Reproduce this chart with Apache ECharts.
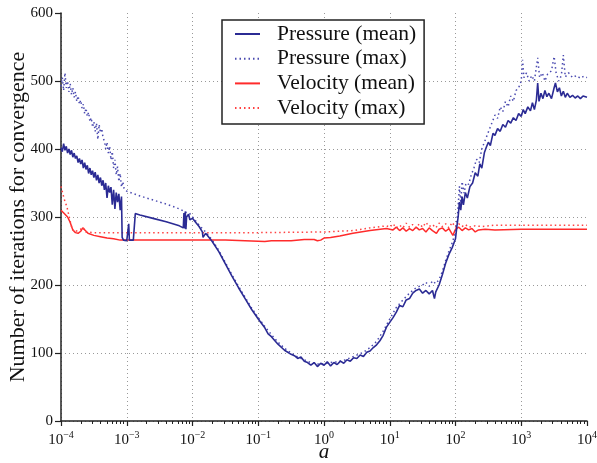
<!DOCTYPE html>
<html>
<head>
<meta charset="utf-8">
<script src="https://cdn.jsdelivr.net/npm/echarts@6/dist/echarts.min.js"></script>
<style>
  html, body { margin: 0; padding: 0; background: #fff; }
  #chart { width: 597px; height: 463px; }
</style>
</head>
<body>
<div id="chart"></div>
<script>
// x values are log10(a)
var pressureMean = [
  [-4.00, 402], [-3.98, 396], [-3.96, 408], [-3.94, 398], [-3.92, 404], [-3.90, 394],
  [-3.88, 400], [-3.86, 392], [-3.84, 398], [-3.82, 388], [-3.80, 394], [-3.78, 386],
  [-3.76, 390], [-3.74, 380], [-3.72, 386], [-3.70, 378], [-3.68, 384], [-3.66, 372],
  [-3.64, 380], [-3.62, 370], [-3.60, 376], [-3.58, 364], [-3.56, 372], [-3.54, 362],
  [-3.52, 368], [-3.50, 358], [-3.48, 366], [-3.46, 354], [-3.44, 362], [-3.42, 350],
  [-3.40, 358], [-3.38, 346], [-3.36, 354], [-3.34, 340], [-3.32, 350], [-3.30, 328],
  [-3.28, 346], [-3.26, 336], [-3.24, 344], [-3.22, 318], [-3.20, 340], [-3.18, 312],
  [-3.16, 336], [-3.14, 322], [-3.12, 334], [-3.10, 310], [-3.08, 330], [-3.07, 270],
  [-3.05, 266], [-3.00, 265], [-2.98, 266], [-2.97, 290], [-2.96, 266], [-2.90, 266],
  [-2.88, 268], [-2.87, 305], [-2.80, 303], [-2.60, 298], [-2.40, 293], [-2.20, 287],
  [-2.14, 284], [-2.13, 306], [-2.12, 283], [-2.11, 308], [-2.10, 282], [-2.09, 300],
  [-2.06, 304], [-2.04, 296], [-2.00, 298], [-1.95, 292], [-1.90, 286], [-1.85, 278],
  [-1.84, 270], [-1.80, 276], [-1.70, 264], [-1.60, 249], [-1.50, 231], [-1.40, 213],
  [-1.30, 196], [-1.20, 180], [-1.10, 164], [-1.00, 150], [-0.90, 137], [-0.85, 128],
  [-0.80, 124], [-0.70, 113], [-0.60, 104], [-0.50, 98], [-0.45, 96], [-0.40, 92],
  [-0.35, 94], [-0.30, 88], [-0.25, 86], [-0.20, 82], [-0.15, 86], [-0.10, 80],
  [-0.05, 85], [0.00, 82], [0.05, 87], [0.10, 81], [0.15, 86], [0.20, 83],
  [0.25, 88], [0.30, 85], [0.35, 90], [0.40, 88], [0.45, 93], [0.50, 92],
  [0.55, 97], [0.60, 95], [0.65, 101], [0.70, 103], [0.75, 108], [0.80, 112],
  [0.85, 118], [0.90, 126], [0.95, 138], [1.00, 145], [1.05, 152], [1.10, 160],
  [1.15, 170], [1.20, 168], [1.25, 178], [1.30, 180], [1.35, 188], [1.40, 192],
  [1.45, 194], [1.50, 188], [1.55, 192], [1.60, 187], [1.65, 192], [1.68, 180],
  [1.70, 190], [1.75, 200], [1.80, 215], [1.85, 232], [1.90, 245], [1.95, 255],
  [2.00, 268], [2.02, 285], [2.04, 300], [2.06, 322], [2.08, 310], [2.10, 330],
  [2.12, 318], [2.15, 336], [2.18, 328], [2.22, 345], [2.26, 350], [2.30, 365],
  [2.34, 360], [2.37, 378], [2.40, 372], [2.44, 395], [2.47, 403], [2.50, 410],
  [2.53, 405], [2.57, 423], [2.60, 420], [2.64, 430], [2.68, 426], [2.72, 436],
  [2.76, 432], [2.80, 442], [2.84, 438], [2.88, 446], [2.92, 442], [2.96, 452],
  [3.00, 448], [3.03, 458], [3.06, 452], [3.10, 462], [3.14, 456], [3.17, 468],
  [3.20, 458], [3.23, 472], [3.25, 497], [3.27, 470], [3.30, 482], [3.33, 474],
  [3.36, 486], [3.39, 477], [3.42, 482], [3.46, 474], [3.50, 490], [3.52, 497],
  [3.55, 484], [3.58, 490], [3.61, 478], [3.64, 485], [3.67, 476], [3.70, 482],
  [3.74, 476], [3.78, 479], [3.82, 475], [3.86, 478], [3.90, 474], [3.94, 478],
  [4.00, 476]
];

var pressureMax = [
  [-4.00, 492], [-3.98, 505], [-3.96, 486], [-3.94, 512], [-3.92, 490], [-3.90, 500],
  [-3.88, 484], [-3.86, 496], [-3.84, 480], [-3.82, 490], [-3.80, 476], [-3.78, 484],
  [-3.76, 470], [-3.74, 478], [-3.72, 466], [-3.70, 472], [-3.68, 460], [-3.66, 466],
  [-3.64, 452], [-3.62, 460], [-3.60, 448], [-3.58, 454], [-3.56, 440], [-3.54, 446],
  [-3.52, 432], [-3.50, 440], [-3.48, 426], [-3.46, 438], [-3.44, 414], [-3.42, 436],
  [-3.40, 424], [-3.38, 430], [-3.36, 416], [-3.34, 412], [-3.32, 400], [-3.30, 410],
  [-3.28, 394], [-3.26, 404], [-3.24, 384], [-3.22, 396], [-3.20, 372], [-3.18, 384],
  [-3.16, 362], [-3.14, 374], [-3.12, 352], [-3.10, 364], [-3.08, 344], [-3.06, 352],
  [-3.04, 342], [-3.00, 338], [-2.80, 331], [-2.60, 325], [-2.40, 319], [-2.20, 312],
  [-2.10, 307], [-2.05, 306], [-2.00, 300], [-1.90, 288], [-1.80, 278], [-1.70, 266],
  [-1.60, 251], [-1.50, 233], [-1.40, 215], [-1.30, 198], [-1.20, 182], [-1.10, 166],
  [-1.00, 152], [-0.90, 139], [-0.80, 127], [-0.70, 116], [-0.60, 107], [-0.50, 100],
  [-0.40, 94], [-0.30, 90], [-0.20, 86], [-0.10, 84], [0.00, 84], [0.10, 86],
  [0.20, 87], [0.30, 89], [0.40, 93], [0.50, 97], [0.60, 101], [0.70, 108],
  [0.80, 117], [0.90, 132], [1.00, 150], [1.10, 167], [1.20, 178], [1.30, 188],
  [1.40, 196], [1.50, 200], [1.55, 204], [1.60, 198], [1.65, 206], [1.70, 202],
  [1.75, 208], [1.80, 220], [1.85, 236], [1.90, 250], [1.95, 262], [2.00, 278],
  [2.03, 302], [2.06, 345], [2.08, 320], [2.10, 352], [2.13, 335], [2.16, 350],
  [2.20, 348], [2.24, 362], [2.28, 372], [2.32, 385], [2.36, 380], [2.40, 400],
  [2.44, 410], [2.48, 420], [2.52, 430], [2.56, 440], [2.60, 450], [2.64, 445],
  [2.68, 462], [2.72, 455], [2.76, 470], [2.80, 462], [2.84, 478], [2.88, 470],
  [2.92, 486], [2.96, 490], [3.00, 500], [3.02, 531], [3.04, 505], [3.08, 512],
  [3.12, 500], [3.16, 508], [3.20, 500], [3.25, 534], [3.28, 505], [3.32, 512],
  [3.36, 500], [3.40, 510], [3.46, 515], [3.50, 536], [3.53, 512], [3.57, 500],
  [3.61, 508], [3.64, 538], [3.67, 506], [3.72, 512], [3.78, 505], [3.84, 508],
  [3.90, 504], [3.95, 507], [4.00, 505]
];

var velocityMean = [
  [-4.00, 310], [-3.95, 305], [-3.90, 300], [-3.86, 292], [-3.82, 281], [-3.78, 277],
  [-3.74, 276], [-3.70, 279], [-3.67, 284], [-3.63, 280], [-3.59, 276], [-3.50, 273],
  [-3.40, 271], [-3.30, 269], [-3.20, 268], [-3.10, 266], [-3.00, 266], [-2.50, 266],
  [-2.00, 266], [-1.50, 266], [-1.20, 265], [-0.90, 264], [-0.80, 265], [-0.50, 265],
  [-0.30, 267], [-0.15, 267], [-0.10, 265], [-0.05, 266], [0.00, 269], [0.10, 270],
  [0.24, 272], [0.44, 276], [0.70, 280], [0.95, 283], [1.05, 281], [1.10, 285],
  [1.15, 280], [1.20, 284], [1.25, 279], [1.30, 283], [1.35, 280], [1.40, 285],
  [1.45, 281], [1.50, 283], [1.55, 278], [1.60, 284], [1.65, 280], [1.71, 276],
  [1.75, 282], [1.80, 284], [1.85, 279], [1.90, 283], [1.96, 273], [2.00, 282],
  [2.05, 285], [2.10, 280], [2.15, 284], [2.20, 281], [2.25, 283], [2.30, 278],
  [2.35, 281], [2.45, 282], [2.60, 281], [3.00, 282], [4.00, 282]
];

var velocityMax = [
  [-4.00, 345], [-3.95, 326], [-3.91, 315], [-3.87, 298], [-3.84, 286], [-3.80, 278],
  [-3.70, 282], [-3.67, 285], [-3.62, 278], [-3.50, 277], [-2.00, 277], [-1.00, 277],
  [0.00, 278], [0.44, 280], [0.70, 284], [0.95, 287], [1.00, 285], [1.05, 290],
  [1.10, 284], [1.15, 288], [1.20, 284], [1.25, 291], [1.30, 285], [1.35, 289],
  [1.40, 284], [1.45, 290], [1.50, 285], [1.55, 292], [1.60, 286], [1.65, 289],
  [1.70, 284], [1.75, 291], [1.80, 286], [1.85, 290], [1.90, 284], [1.95, 292],
  [2.00, 285], [2.05, 290], [2.10, 286], [2.15, 289], [2.20, 285], [2.30, 287],
  [2.40, 286], [2.60, 288], [4.00, 288]
];

var seriesNames = ['Pressure (mean)', 'Pressure (max)', 'Velocity (mean)', 'Velocity (max)'];

// minor tick positions at 2..9 within each decade
var minorTicks = [];
for (var n = -4; n < 4; n++) {
  for (var k = 2; k <= 9; k++) minorTicks.push(n + Math.log10(k));
}

var serif = 'Liberation Serif';
var blue = '#2b2b94';
var red = '#ff2b2b';

var myChart = echarts.init(document.getElementById('chart'));
var option = {
  animation: false,
  grid: { left: 61, right: 10, top: 13, bottom: 42, containLabel: false, outerBoundsMode: 'none' },
  legend: {
    data: seriesNames,
    orient: 'vertical',
    left: 222,
    top: 20,
    padding: [2, 8, 4, 12],
    itemWidth: 25,
    itemHeight: 14,
    itemGap: 0.7,
    borderColor: '#222',
    borderWidth: 1.5,
    borderRadius: 0,
    backgroundColor: '#fff',
    itemStyle: { opacity: 0 },
    textStyle: { fontFamily: serif, fontSize: 21.5, lineHeight: 24, color: '#111', padding: [0, 0, 0, 12] }
  },
  xAxis: [
    {
      type: 'value',
      min: -4,
      max: 4,
      interval: 1,
      name: 'a',
      nameLocation: 'middle',
      nameGap: 21,
      nameMoveOverlap: false,
      nameTextStyle: { fontFamily: serif, fontSize: 21, fontStyle: 'italic', color: '#111' },
      axisLine: { onZero: false, lineStyle: { color: '#222', width: 1.5 } },
      axisTick: { length: 5, lineStyle: { color: '#222', width: 1.2 } },
      axisLabel: {
        margin: 10,
        formatter: function (v) {
          return '{b|10}{s|' + (v < 0 ? '\u2212' : '') + Math.abs(v) + '}';
        },
        rich: {
          b: { fontFamily: serif, fontSize: 15, color: '#111', lineHeight: 18 },
          s: { fontFamily: serif, fontSize: 10, color: '#111', lineHeight: 18, padding: [0, 0, 9, 0] }
        }
      },
      splitLine: { showMaxLine: false, lineStyle: { color: '#999', type: [1, 3], width: 1 } }
    },
    {
      type: 'value',
      min: -4,
      max: 4,
      position: 'bottom',
      axisLine: { show: false, onZero: false },
      axisTick: { show: true, length: 3, customValues: minorTicks, lineStyle: { color: '#222', width: 1 } },
      axisLabel: { show: false },
      splitLine: { show: false }
    }
  ],
  yAxis: {
    type: 'value',
    min: 0,
    max: 600,
    interval: 100,
    name: 'Number of iterations for convergence',
    nameLocation: 'middle',
    nameGap: 32,
    nameMoveOverlap: false,
    nameTextStyle: { fontFamily: serif, fontSize: 22, color: '#111' },
    axisLine: { show: true, onZero: false, lineStyle: { color: '#222', width: 1.5 } },
    axisTick: { show: true, length: 6, lineStyle: { color: '#222', width: 1.2 } },
    axisLabel: { fontFamily: serif, fontSize: 15, color: '#111', margin: 8 },
    splitLine: { showMaxLine: false, lineStyle: { color: '#999', type: [1, 3], width: 1 } }
  },
  series: [
    {
      name: seriesNames[0], type: 'line', data: pressureMean, symbol: 'none',
      lineStyle: { color: blue, width: 1.6 }, itemStyle: { color: blue }, z: 4
    },
    {
      name: seriesNames[1], type: 'line', data: pressureMax, symbol: 'none',
      lineStyle: { color: '#4a4ab0', width: 1.5, type: [1.5, 3] }, itemStyle: { color: '#4a4ab0' }, z: 3
    },
    {
      name: seriesNames[2], type: 'line', data: velocityMean, symbol: 'none',
      lineStyle: { color: red, width: 1.5 }, itemStyle: { color: red }, z: 2
    },
    {
      name: seriesNames[3], type: 'line', data: velocityMax, symbol: 'none',
      lineStyle: { color: '#ff4040', width: 1.5, type: [1.5, 3] }, itemStyle: { color: '#ff4040' }, z: 2
    }
  ]
};
myChart.setOption(option);
</script>
</body>
</html>
